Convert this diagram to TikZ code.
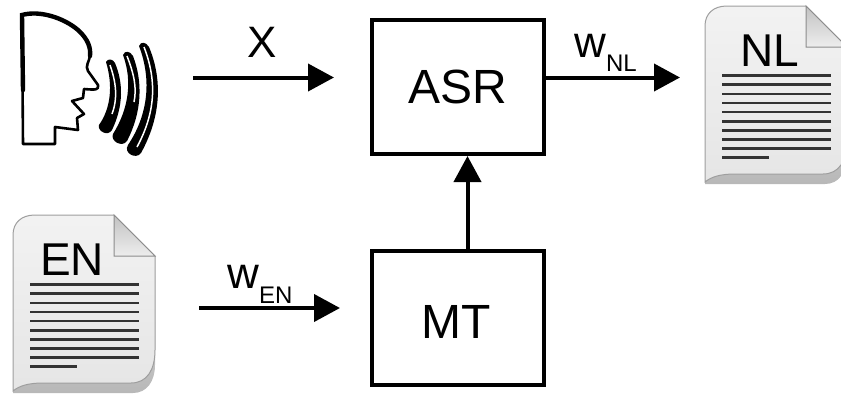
\documentclass[tikz,border=0pt]{standalone}
\usepackage{fontspec}
\setmainfont{Liberation Sans}
\usetikzlibrary{arrows.meta,positioning}
\newcommand{\fsize}[1]{\fontsize{#1}{#1}\selectfont}
\tikzset{
  block/.style={draw,line width=4pt,minimum width=172pt,minimum height=134pt,inner sep=0pt,font=\fsize{48}},
  flow/.style={line width=4pt,-{Triangle[length=26pt,width=27pt]}},
  lbl/.style={anchor=base,inner sep=0pt,font=\fsize{44}},
  doclbl/.style={anchor=base,inner sep=0pt,font=\fsize{46}},
  docpage/.pic={
    \shade[top color=black!6,bottom color=black!28] (0,20) .. controls (0,8) and (8,0) .. (22,0) -- (101,0) -- (142,41) -- (142,150)
      .. controls (142,166) and (134,178) .. (120,178) -- (0,178) -- cycle;
    \shadedraw[draw=black!38,line width=1pt,top color=black!5,bottom color=black!10] (0,20) .. controls (0,8) and (8,0) .. (22,0) -- (101,0) -- (142,41) -- (142,135)
      .. controls (142,155) and (134,168) .. (118,168) -- (30,168) .. controls (15,168) and (6,171) .. (0,176) -- cycle;
    \shadedraw[draw=black!45,line width=1pt,bottom color=black!7,top color=black!24] (101,0) -- (142,41) -- (101,41) -- cycle;
    \foreach \i in {0,...,8}
      \draw[black!80,line width=2.7pt] (17,69.7+9.1*\i) -- (126,69.7+9.1*\i);
    \draw[black!80,line width=2.7pt] (17,151.6) -- (64,151.6);
  }
}

\begin{document}
\begin{tikzpicture}[x=1pt,y=-1pt]
  \useasboundingbox (0,0) rectangle (841,394);

  % speaker
  \draw[line width=2.6pt,line join=round] (23,144) -- (22,15) .. controls (40,10) and (64,18) .. (78,30)
    .. controls (88,39) and (91,48) .. (90,56) .. controls (89,62) and (85,66) .. (88,71) -- (98,85) .. controls (99,90) and (96,90) .. (84,89)
    -- (83,98) -- (72,101) -- (84,114) -- (77,118) -- (78,130) -- (55,127) -- (55,144) -- cycle;
  \draw[line width=4.4pt,line cap=round] (23,90) -- (22,15) .. controls (40,10) and (64,18) .. (78,30)
    .. controls (88,39) and (91,48) .. (90,56);
  \fill (106,62) .. controls (108,58) and (113,59) .. (115,63) .. controls (123,82) and (124,105) .. (112,130)
    .. controls (108,137) and (97,131) .. (99,125) .. controls (111,108) and (113,85) .. (106,62) -- cycle;
  \fill (123,55) .. controls (125,50) and (130,51) .. (133,56) .. controls (143,82) and (142,112) .. (127,141)
    .. controls (122,148) and (110,141) .. (113,134) .. controls (128,110) and (133,82) .. (123,55) -- cycle;
  \fill (139,46) .. controls (141,41) and (146,42) .. (149,47) .. controls (162,78) and (162,115) .. (141,153)
    .. controls (136,160) and (123,153) .. (128,145) .. controls (148,115) and (152,80) .. (139,46) -- cycle;
  \draw[white,line width=1.5pt] (110,65) .. controls (116,82) and (118,98) .. (112,114);
  \draw[white,line width=1.5pt] (127,56) .. controls (134,74) and (137,88) .. (134,102);
  \draw[white,line width=1.5pt] (144,47) .. controls (156,78) and (157,110) .. (137,147);

  \pic at (13,215) {docpage};
  \pic at (705,6) {docpage};
  \node[doclbl] (en) at (72,275) {EN};
  \node[doclbl] (nl) at (770,66) {NL};

  \node[block] (asr) at (458,87) {ASR};
  \node[block,below=92.5pt of asr,text height=42.2pt] (mt) {MT\kern4pt};

  \coordinate (xin) at (193,77.5);
  \coordinate (xend) at (334,77.5);
  \coordinate (nlend) at (680,77.5);
  \coordinate (enin) at (199,308);
  \coordinate (enend) at (340,308);
  \coordinate (nlin) at (asr.east |- xin);

  \path[flow]
    (xin) edge (xend)
    (nlin) edge (nlend)
    (enin) edge (enend)
    (mt.north -| 467.5,0) edge (asr.south -| 467.5,0);

  \node[lbl] (x) at (262,57.3) {X};
  \node[lbl] (wnl) at (605.5,57) {w\raisebox{-14.5pt}{\fsize{24}NL}};
  \node[lbl] (wen) at (260,288) {w\raisebox{-15pt}{\fsize{24}EN}};
\end{tikzpicture}
\end{document}
